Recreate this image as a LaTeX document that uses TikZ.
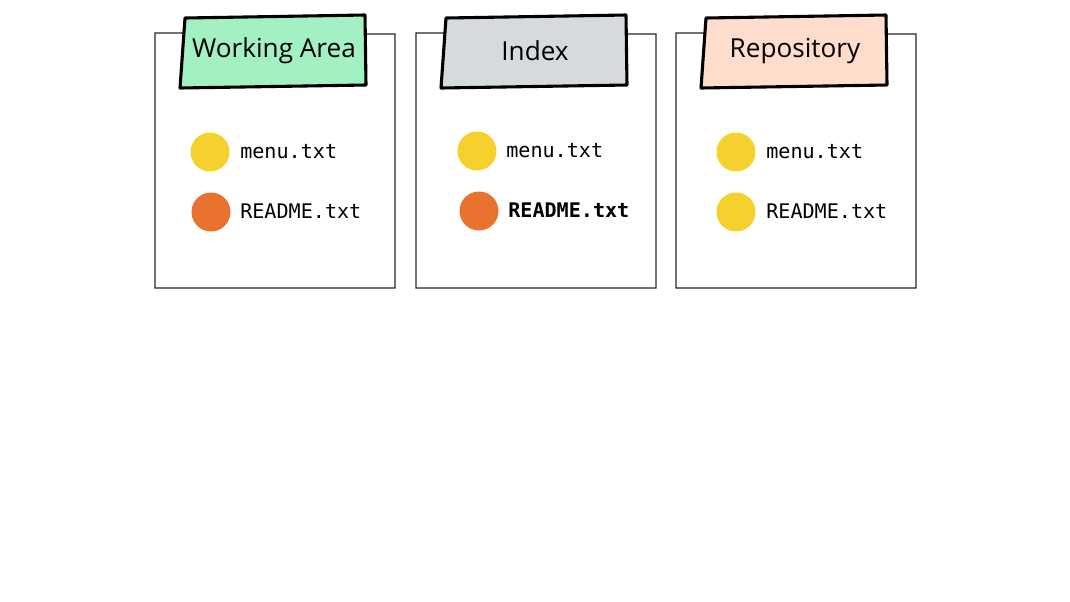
\documentclass[tikz,border=0pt]{standalone}
\usepackage{fontspec}
\setmainfont{Open Sans}
\setmonofont{DejaVu Sans Mono}
\definecolor{workgreen}{HTML}{A3F0C2}
\definecolor{indexgrey}{HTML}{D5DADD}
\definecolor{repopeach}{HTML}{FFDCCC}
\definecolor{dotyellow}{HTML}{F6D12E}
\definecolor{dotorange}{HTML}{E9722E}
\tikzset{
  area/.style={draw=black!85, line width=0.9pt},
  tabline/.style={draw=black, line width=2.2pt, line join=round},
  tabtext/.style={font=\fontsize{18.6}{22}\selectfont, inner sep=0pt},
  dot/.style={circle, minimum size=39\unitpx, inner sep=0pt},
  fname/.style={font=\ttfamily\fontsize{14.3}{16}\selectfont, anchor=west, inner sep=0pt},
}
\newlength{\unitpx}
\setlength{\unitpx}{0.025cm}
\begin{document}
\begin{tikzpicture}[x=0.025cm, y=-0.025cm]
  \useasboundingbox (0,0) rectangle (1070,601);
  % the three areas
  \foreach \name/\left in {work/155, index/416, repo/676} {
    \draw[area] (\left,33) -- (\left+240,34) -- (\left+240,288) -- (\left,288) -- cycle;
  }
  % tabs on top
  \draw[tabline, fill=workgreen] (185,18) -- (365,15) -- (366,85) -- (180,88) -- cycle;
  \node[tabtext] (worktab) at (274,51) {Working Area};
  \draw[tabline, fill=indexgrey] (446,18) -- (626,15) -- (627,85) -- (441,88) -- cycle;
  \node[tabtext] (indextab) at (535,51) {Index};
  \draw[tabline, fill=repopeach] (706,18) -- (886,15) -- (887,85) -- (701,88) -- cycle;
  \node[tabtext] (repotab) at (795,51) {Repository};
  % files in the working area
  \node[dot, fill=dotyellow] (workmenu) at (210,152) {};
  \node[fname] (workmenutxt) at (240,152) {menu.txt};
  \node[dot, fill=dotorange] (workreadme) at (211,212) {};
  \node[fname] (workreadmetxt) at (240,211) {README.txt};
  % files in the index
  \node[dot, fill=dotyellow] (indexmenu) at (477,151) {};
  \node[fname] (indexmenutxt) at (506,151) {menu.txt};
  \node[dot, fill=dotorange] (indexreadme) at (479,211) {};
  \node[fname, font=\ttfamily\bfseries\fontsize{14.3}{16}\selectfont] (indexreadmetxt) at (508,210) {README.txt};
  % files in the repository
  \node[dot, fill=dotyellow] (repomenu) at (736,152) {};
  \node[fname] (repomenutxt) at (766,152) {menu.txt};
  \node[dot, fill=dotyellow] (reporeadme) at (736,212) {};
  \node[fname] (reporeadmetxt) at (766,211) {README.txt};
\end{tikzpicture}
\end{document}
